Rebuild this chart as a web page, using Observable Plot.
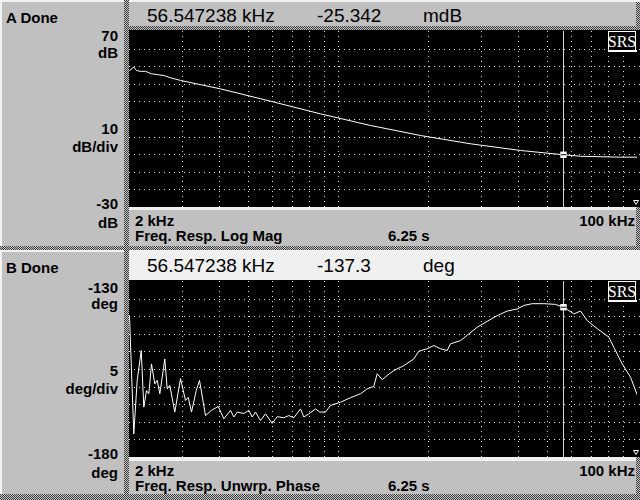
<!DOCTYPE html>
<html><head><meta charset="utf-8">
<script src="https://cdn.jsdelivr.net/npm/d3@7"></script>
<script src="https://cdn.jsdelivr.net/npm/@observablehq/plot@0.6"></script>
<style>
html,body{margin:0;padding:0;background:#c0c0c0;}
#screen{position:relative;width:640px;height:500px;overflow:hidden;background:#c0c0c0;}
#screen > svg{position:absolute;display:block;}
</style></head><body><div id="screen"></div>
<script>
// ---- data (frequency in kHz) ----
const magFreq = [2.000, 2.067, 2.111, 2.189, 2.262, 2.364, 2.506, 2.605, 2.743, 2.962, 4.032, 5.924, 8.707, 12.795, 18.807, 27.636, 40.620, 56.547, 64.494, 87.7, 100];
const magDb   = [47.8, 49.8, 47.8, 47.3, 47.4, 46.0, 45.4, 45.0, 43.7, 42.2, 37.4, 30.4, 23.2, 16.6, 10.9, 6.2, 2.4, -0.03, -0.9, -1.4, -1.4];

const phaseFreq = [2.000, 2.067, 2.122, 2.189, 2.233, 2.280, 2.321, 2.369, 2.430, 2.476,
  2.526, 2.625, 2.674, 2.728, 2.835, 2.962, 3.078, 3.143, 3.224, 3.343,
  3.429, 3.591, 3.761, 3.961, 4.136, 4.355, 4.467, 4.585, 4.824, 5.012,
  5.145, 5.278, 5.485, 5.700, 6.002, 6.238, 6.563, 6.821, 7.089, 7.464,
  7.656, 7.957, 8.378, 8.660, 9.049, 9.404, 10.157, 10.969, 11.847, 12.474,
  13.125, 13.473, 14.002, 14.552, 15.311, 16.539, 17.860, 18.562, 19.801, 20.833,
  21.935, 23.097, 23.691, 25.588, 27.276, 29.099, 31.428, 33.945, 36.666, 39.603,
  41.668, 44.453, 48.600, 53.192, 56.547, 61.249, 64.494, 67.910, 73.336, 80.186,
  83.333, 88.903, 94.773, 100];
const phaseDeg = [-139.7, -173.3, -158.1, -149.6, -165.7, -161.0, -161.9, -153.4, -159.1, -158.1,
  -161.9, -152.0, -160.5, -159.5, -167.1, -157.6, -163.8, -162.9, -167.1, -161.0,
  -158.1, -168.1, -166.6, -165.5, -169.0, -166.6, -168.5, -167.1, -167.5, -166.6,
  -168.5, -167.1, -169.5, -167.6, -170.3, -168.4, -168.7, -168.1, -168.7, -166.2,
  -168.5, -167.6, -166.2, -167.1, -167.1, -165.2, -164.3, -163.0, -161.9, -160.5,
  -159.8, -156.2, -157.9, -156.7, -155.3, -153.9, -152.0, -149.8, -149.1, -148.2,
  -149.1, -149.6, -147.7, -146.8, -144.9, -143.0, -141.3, -139.7, -138.4, -137.8,
  -136.8, -136.3, -136.3, -136.5, -137.3, -139.2, -138.4, -141.1, -143.4, -145.8,
  -148.7, -153.4, -157.2, -162.4];

const gridFreq  = [3, 4, 5, 6, 7, 8, 9, 10, 20, 30, 40, 50, 60, 70, 80, 90];
const gridMag   = [-20, -10, 0, 10, 20, 30, 40, 50, 60];
const gridPhase = [-175, -170, -165, -160, -155, -150, -145, -140, -135];

const cursorFreq = 56.547238;
const cursorMag = -0.025342;   // dB  (shown as -25.342 mdB)
const cursorPhase = -137.3;    // deg

const magDomain = [-30, 70];
const phaseDomain = [-180, -130];
const freqDomain = [2, 100];

// ---- text labels ----
const labelsA = {status: "A Done", cursorF: "56.547238 kHz", cursorV: "-25.342", unit: "mdB",
  top: ["70", "dB"], mid: ["10", "dB/div"], bot: ["-30", "dB"],
  start: "2 kHz", end: "100 kHz", meas: "Freq. Resp. Log Mag", time: "6.25 s"};
const labelsB = {status: "B Done", cursorF: "56.547238 kHz", cursorV: "-137.3", unit: "deg",
  top: ["-130", "deg"], mid: ["5", "deg/div"], bot: ["-180", "deg"],
  start: "2 kHz", end: "100 kHz", meas: "Freq. Resp. Unwrp. Phase", time: "6.25 s"};
const logoText = "SRS";

const screen = document.getElementById("screen");
const NS = "http://www.w3.org/2000/svg";
function el(name, attrs, parent) {
  const e = document.createElementNS(NS, name);
  for (const k in attrs) e.setAttribute(k, attrs[k]);
  if (parent) parent.appendChild(e);
  return e;
}
function txt(parent, x, y, s, o = {}) {
  const t = el("text", {x, y, "font-family": o.family || "'Liberation Sans', Arial, sans-serif",
    "font-size": o.size || 15, "font-weight": o.weight || "bold", fill: o.fill || "#000",
    "text-anchor": o.anchor || "start"}, parent);
  if (o.len) { t.setAttribute("textLength", o.len); t.setAttribute("lengthAdjust", "spacingAndGlyphs"); }
  t.textContent = s;
  return t;
}

// ---- background frame ----
const bg = el("svg", {width: 640, height: 500, style: "left:0;top:0"}, screen);
const defs = el("defs", {}, bg);
const pat = el("pattern", {id: "chk", width: 2, height: 2, patternUnits: "userSpaceOnUse"}, defs);
el("rect", {x: 0, y: 0, width: 2, height: 2, fill: "#c8c8c8"}, pat);
el("rect", {x: 0, y: 0, width: 1, height: 1, fill: "#3a3a3a"}, pat);
el("rect", {x: 1, y: 1, width: 1, height: 1, fill: "#3a3a3a"}, pat);

el("rect", {x: 0, y: 0, width: 640, height: 500, fill: "#c0c0c0"}, bg);
el("rect", {x: 0, y: 0, width: 640, height: 2, fill: "#f2f2f2"}, bg);
el("rect", {x: 0, y: 0, width: 2, height: 246, fill: "#f2f2f2"}, bg);
el("rect", {x: 0, y: 250, width: 124, height: 2, fill: "#f2f2f2"}, bg);
el("rect", {x: 0, y: 250, width: 2, height: 244, fill: "#f2f2f2"}, bg);
el("rect", {x: 129, y: 250, width: 511, height: 31, fill: "#f0f0f0"}, bg);
el("rect", {x: 129, y: 207, width: 507, height: 3, fill: "#f0f0f0"}, bg);
el("rect", {x: 129, y: 457, width: 507, height: 4, fill: "#f0f0f0"}, bg);
el("rect", {x: 129, y: 30, width: 511, height: 177, fill: "#000"}, bg);
el("rect", {x: 129, y: 280, width: 511, height: 177, fill: "#000"}, bg);
el("rect", {x: 124, y: 0, width: 5, height: 500, fill: "url(#chk)"}, bg);
el("rect", {x: 129, y: 26, width: 511, height: 4, fill: "url(#chk)"}, bg);
el("rect", {x: 0, y: 246, width: 640, height: 4, fill: "url(#chk)"}, bg);
el("rect", {x: 0, y: 494, width: 640, height: 6, fill: "url(#chk)"}, bg);
el("rect", {x: 636, y: 2, width: 4, height: 24, fill: "url(#chk)"}, bg);
el("rect", {x: 636, y: 207, width: 4, height: 39, fill: "url(#chk)"}, bg);
el("rect", {x: 636, y: 457, width: 4, height: 37, fill: "url(#chk)"}, bg);

function panelText(L, off) {
  txt(bg, 6, 22.5 + off, L.status);
  txt(bg, 147, 22 + off, L.cursorF, {size: 19, weight: "normal"});
  txt(bg, 317, 22 + off, L.cursorV, {size: 19, weight: "normal"});
  txt(bg, 423, 22 + off, L.unit, {size: 19, weight: "normal"});
  txt(bg, 135, 225.7 + off, L.start);
  txt(bg, 635, 225.7 + off, L.end, {anchor: "end"});
  txt(bg, 135, 241 + off, L.meas);
  txt(bg, 388, 241 + off, L.time);
}
panelText(labelsA, 0);
panelText(labelsB, 250);
txt(bg, 118, 41, labelsA.top[0], {anchor: "end"});
txt(bg, 118, 57.5, labelsA.top[1], {anchor: "end"});
txt(bg, 118, 133.5, labelsA.mid[0], {anchor: "end"});
txt(bg, 118, 151.5, labelsA.mid[1], {anchor: "end"});
txt(bg, 118, 209, labelsA.bot[0], {anchor: "end"});
txt(bg, 118, 227.5, labelsA.bot[1], {anchor: "end"});
txt(bg, 118, 292.5, labelsB.top[0], {anchor: "end"});
txt(bg, 118, 309, labelsB.top[1], {anchor: "end"});
txt(bg, 118, 375.7, labelsB.mid[0], {anchor: "end"});
txt(bg, 118, 394, labelsB.mid[1], {anchor: "end"});
txt(bg, 118, 459, labelsB.bot[0], {anchor: "end"});
txt(bg, 118, 477.5, labelsB.bot[1], {anchor: "end"});

// ---- plots ----
const magData = magFreq.map((f, i) => ({f, v: magDb[i]}));
const phaseData = phaseFreq.map((f, i) => ({f, v: phaseDeg[i]}));
const dash = {stroke: "#e4e4e4", strokeDasharray: "1,4", shapeRendering: "crispEdges"};
const markerLine = {draw(ctx, size) { const s = Math.sqrt(size) / 2; ctx.moveTo(-s, 0); ctx.lineTo(s, 0); }};

function trace(data, yDomain, yGrid, cv) {
  return Plot.plot({
    width: 511, height: 176,
    marginTop: 0, marginBottom: 0, marginLeft: 0, marginRight: 3,
    x: {type: "log", domain: freqDomain, axis: null},
    y: {domain: yDomain, axis: null},
    style: {background: "#000", overflow: "hidden"},
    marks: [
      Plot.ruleX(gridFreq, dash),
      Plot.ruleY(yGrid, {...dash, insetRight: -3}),
      Plot.ruleX([cursorFreq], {stroke: "#d4d4d4", shapeRendering: "crispEdges"}),
      Plot.line(data, {x: "f", y: "v", stroke: "#ffffff", strokeWidth: 1, clip: true}),
      Plot.dot([{f: cursorFreq, v: cv}], {x: "f", y: "v", symbol: "square", r: 3.6, fill: "#ffffff", stroke: "none"}),
      Plot.dot([{f: cursorFreq, v: cv}], {x: "f", y: "v", symbol: markerLine, r: 3, stroke: "#000", strokeWidth: 1})
    ]
  });
}
const magPlot = trace(magData, magDomain, gridMag, cursorMag);
magPlot.style.left = "129px"; magPlot.style.top = "31px";
screen.appendChild(magPlot);
const phasePlot = trace(phaseData, phaseDomain, gridPhase, cursorPhase);
phasePlot.style.left = "129px"; phasePlot.style.top = "281px";
screen.appendChild(phasePlot);

// ---- overlay: SRS logos, end markers ----
const ov = el("svg", {width: 640, height: 500, style: "left:0;top:0;pointer-events:none"}, screen);
function logo(y0) {
  el("rect", {x: 608.5, y: y0 + 0.5, width: 27, height: 20, fill: "#000", stroke: "#fff", "stroke-width": 1}, ov);
  el("rect", {x: 609, y: y0 + 19, width: 28, height: 2, fill: "#fff"}, ov);
  txt(ov, 622, y0 + 15.5, logoText, {family: "'Liberation Serif', 'Times New Roman', serif", size: 16, weight: "normal", fill: "#fff", anchor: "middle"});
}
logo(31);
logo(281);
function endMark(y) {
  el("path", {d: `M633.5,${y} L638.5,${y} L636,${y + 4} Z`, fill: "none", stroke: "#fff", "stroke-width": 1}, ov);
}
endMark(200.5);
endMark(450.5);
</script></body></html>
